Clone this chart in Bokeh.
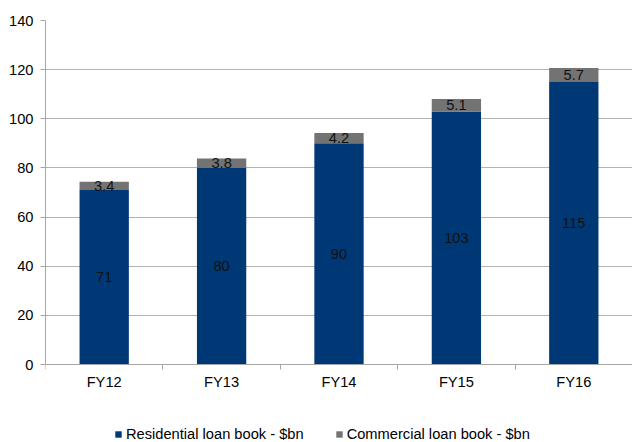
from bokeh.plotting import figure
from bokeh.models import (ColumnDataSource, Range1d, FixedTicker, Legend,
                          LegendItem, LabelSet)
from bokeh.core.properties import value
from bokeh.embed import file_html
from bokeh.resources import INLINE

# Loan book by financial year, $bn
years = ["FY12", "FY13", "FY14", "FY15", "FY16"]
residential = [71, 80, 90, 103, 115]
commercial = [3.4, 3.8, 4.2, 5.1, 5.7]
y_ticks = [0, 20, 40, 60, 80, 100, 120, 140]

BLUE = "#003876"
GREY = "#737373"
AXIS_GREY = "#a6a6a6"
FONT = "Liberation Sans"
SIZE = "11pt"

# Vertical layout in pixels: value axis spans 344 px, with 78 px below the
# zero line kept inside the frame for the category labels and the legend.
Y_MAX = 140
AXIS_PX = 344
BELOW_PX = 78
y_min = -Y_MAX * BELOW_PX / AXIS_PX

x = [i + 0.5 for i in range(len(years))]
res_mid = [r / 2 for r in residential]
com_mid = [r + c / 2 for r, c in zip(residential, commercial)]

source = ColumnDataSource(dict(
    x=x, years=years, residential=residential, commercial=commercial,
    res_mid=res_mid, com_mid=com_mid,
    res_txt=[f"{v:g}" for v in residential],
    com_txt=[f"{v:.1f}" for v in commercial],
))

p = figure(width=632, height=442, output_backend="svg", toolbar_location=None,
           x_range=Range1d(0, len(years)), y_range=Range1d(y_min, Y_MAX),
           min_border_left=45, min_border_right=0, min_border_top=20,
           min_border_bottom=0)
p.outline_line_color = None
p.background_fill_color = "white"
p.border_fill_color = "white"

renderers = p.vbar_stack(["residential", "commercial"], x="x", width=0.42,
                         color=[BLUE, GREY], line_color=None, source=source)

# y axis, drawn only over the value range
p.yaxis.ticker = FixedTicker(ticks=y_ticks)
p.yaxis.bounds = (0, Y_MAX)
p.yaxis.axis_line_color = AXIS_GREY
p.yaxis.major_tick_line_color = AXIS_GREY
p.yaxis.major_tick_out = 5
p.yaxis.major_tick_in = 0
p.yaxis.minor_tick_line_color = None
p.yaxis.major_label_standoff = 7
p.yaxis.major_label_text_font = FONT
p.yaxis.major_label_text_font_size = SIZE
p.yaxis.major_label_text_color = "#000000"

# x axis on the zero line: names at centres, tick marks at boundaries
p.xaxis.fixed_location = 0
p.xaxis.ticker = FixedTicker(ticks=x, minor_ticks=list(range(len(years) + 1)))
p.xaxis.major_label_overrides = {xx: yr for xx, yr in zip(x, years)}
p.xaxis.axis_line_color = AXIS_GREY
p.xaxis.major_tick_line_color = None
p.xaxis.major_tick_out = 5
p.xaxis.major_tick_in = 0
p.xaxis.minor_tick_line_color = AXIS_GREY
p.xaxis.minor_tick_out = 5
p.xaxis.minor_tick_in = 0
p.xaxis.major_label_standoff = 4
p.xaxis.major_label_text_font = FONT
p.xaxis.major_label_text_font_size = SIZE
p.xaxis.major_label_text_color = "#000000"

p.xgrid.grid_line_color = None
p.ygrid.ticker = FixedTicker(ticks=y_ticks)
p.ygrid.grid_line_color = "#b3b3b3"
p.ygrid.grid_line_width = 1

# value labels inside each segment
for ycol, tcol in (("res_mid", "res_txt"), ("com_mid", "com_txt")):
    p.add_layout(LabelSet(x="x", y=ycol, text=tcol, source=source,
                          text_align="center", text_baseline="middle",
                          text_font=value(FONT), text_font_size=value(SIZE),
                          text_color="#111111"))

legend = Legend(items=[
    LegendItem(label="Residential loan book - $bn", renderers=[renderers[0]]),
    LegendItem(label="Commercial loan book - $bn", renderers=[renderers[1]]),
], orientation="horizontal", location=(69, 0))
legend.border_line_color = None
legend.background_fill_alpha = 0
legend.padding = 0
legend.margin = 0
legend.spacing = 31
legend.glyph_width = 8
legend.glyph_height = 8
legend.label_standoff = 4
legend.label_height = 16
legend.label_text_font = FONT
legend.label_text_font_size = SIZE
legend.label_text_color = "#000000"
legend.label_text_baseline = "middle"
p.add_layout(legend, "center")

open("out.html", "w").write(file_html(p, INLINE))
